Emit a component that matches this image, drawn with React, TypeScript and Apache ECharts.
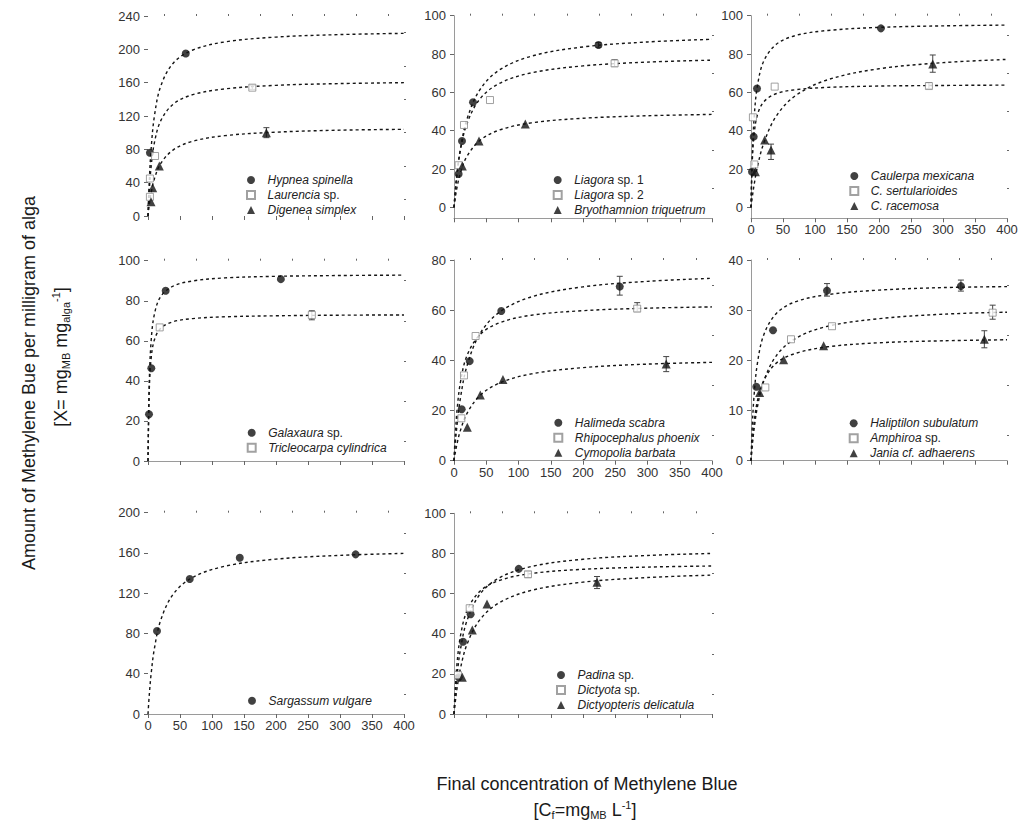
import React, { useEffect, useRef } from "react";
import * as echarts from "echarts";

// ---------- data ----------
const fitX = [0, 2, 5, 10, 20, 40, 70, 120, 200, 300, 400];

// Panel A
const hypneaPts = [[3, 76], [59, 195]];
const hypneaFit = [0, 41.9, 81.8, 119.8, 156.1, 184.0, 199.2, 208.9, 214.7, 217.7, 219.2];
const laurenciaPts = [[3, 23], [3, 45], [11, 72], [163, 154]];
const laurenciaFit = [0, 30.9, 60.2, 88.0, 114.4, 134.6, 145.6, 152.5, 156.8, 158.9, 160.0];
const digeneaPts = [[4.7, 17], [7.3, 34], [17.7, 60], [185, 100]];
const digeneaFit = [0, 13.4, 28.3, 44.8, 63.2, 79.7, 89.7, 96.4, 100.6, 103.0, 104.0];
const errA = [[163, 152, 157], [185, 94, 106]];

// Panel B
const liagora1Pts = [[7.2, 17.4], [12.4, 34.6], [29.5, 54.8], [224, 84.7]];
const liagora1Fit = [0, 8.3, 18.4, 30.6, 45.9, 61.3, 71.6, 78.9, 83.7, 86.3, 87.7];
const liagora2Pts = [[7.2, 22], [15.5, 43], [55.8, 56], [249, 75.1]];
const liagora2Fit = [0, 8.6, 18.5, 30.0, 43.6, 56.5, 64.6, 70.2, 73.8, 75.8, 76.8];
const bryoPts = [[12.9, 21.6], [38.8, 34.6], [110.6, 43.5]];
const bryoFit = [0, 5.1, 11.0, 18.1, 26.6, 34.9, 40.3, 44.1, 46.5, 47.8, 48.5];
const errB = [[249, 73.5, 77], [224, 83.5, 86]];

// Panel C
const caulerpaPts = [[1.6, 18.6], [4.2, 36.9], [9.4, 62], [203, 93.4]];
const caulerpaFit = [0, 26.7, 47.2, 63.3, 76.4, 85.2, 89.7, 92.3, 93.9, 94.7, 95.1];
const sertPts = [[3, 47], [5.2, 22.4], [37, 63], [278, 63.3]];
const sertFit = [0, 24.1, 38.5, 48.2, 55.1, 59.4, 61.4, 62.6, 63.3, 63.6, 63.8];
const racemosaPts = [[6.8, 18.6], [21.4, 35.1], [31.3, 29.9], [284, 74.8]];
const racemosaFit = [0, 5.3, 12.1, 21.1, 33.6, 47.9, 58.4, 66.6, 72.3, 75.5, 77.2];
const errC = [[278, 62, 65], [284, 70.5, 79.5], [31.3, 25, 33]];

// Panel D
const galaxauraPts = [[1.6, 23.3], [5.2, 46.3], [27.6, 85], [207.6, 90.8]];
const galaxauraFit = [0, 39.4, 60.4, 73.3, 82.2, 87.4, 89.9, 91.4, 92.2, 92.6, 92.8];
const tricleoPts = [[18.3, 66.7], [256, 72.9]];
const tricleoFit = [0, 35.6, 51.5, 60.5, 66.3, 69.6, 71.1, 72.0, 72.5, 72.8, 72.9];
const errD = [[256, 70.5, 75]];

// Panel E
const halimedaPts = [[11.9, 20.5], [24.3, 39.7], [73.3, 59.7], [257, 69.4]];
const halimedaFit = [0, 6.8, 15.0, 25.0, 37.7, 50.5, 59.1, 65.3, 69.3, 71.5, 72.7];
const rhipoPts = [[11.4, 16.9], [15.5, 34], [33.5, 49.7], [284, 60.6]];
const rhipoFit = [0, 10.4, 20.9, 31.3, 41.8, 50.2, 54.9, 58.0, 59.8, 60.8, 61.3];
const cymopoliaPts = [[20.6, 13.3], [40.8, 26.2], [75.9, 32.4], [329, 38.5]];
const cymopoliaFit = [0, 3.2, 7.1, 12.1, 18.8, 25.9, 30.9, 34.6, 37.1, 38.5, 39.2];
const errE = [[257, 66, 73.5], [284, 59.5, 63], [329, 35.5, 41.5]];

// Panel F
const haliptilonPts = [[8.3, 14.75], [34.4, 26], [118.75, 33.9], [328, 34.8]];
const haliptilonFit = [0, 6.9, 13.3, 19.4, 25.1, 29.4, 31.7, 33.1, 34.0, 34.5, 34.7];
const amphiroaPts = [[22.4, 14.6], [62.5, 24.2], [126.6, 26.8], [377.6, 29.5]];
const amphiroaFit = [0, 3.0, 6.5, 10.7, 15.9, 21.0, 24.4, 26.8, 28.3, 29.2, 29.6];
const janiaPts = [[13.5, 13.6], [51, 20.1], [113.5, 22.9], [364.6, 24.2]];
const janiaFit = [0, 3.8, 7.8, 11.9, 16.0, 19.5, 21.4, 22.7, 23.5, 23.9, 24.1];
const errF = [[118.75, 32.8, 35.3], [328, 33.8, 36], [377.6, 28.2, 31], [364.6, 22.5, 25.9]];

// Panel G
const sargassumPts = [[14.1, 82.5], [65.2, 134.1], [143.4, 155.3], [324.4, 158.6]];
const sargassumFit = [0, 19.0, 40.5, 65.1, 93.5, 119.6, 135.8, 146.8, 153.9, 157.6, 159.6];
const errG: number[][] = [];

// Panel H
const padinaPts = [[7.2, 18.3], [14, 36], [25.8, 49.7], [100.3, 72.3]];
const padinaFit = [0, 9.3, 20.0, 32.2, 46.4, 59.6, 67.8, 73.5, 77.1, 79.0, 80.0];
const dictyotaPts = [[6.2, 19.4], [24.3, 52.7], [114.7, 69.6]];
const dictyotaFit = [0, 13.2, 26.2, 38.9, 51.3, 61.1, 66.5, 70.0, 72.1, 73.2, 73.75];
const dictyopterisPts = [[12.9, 18.3], [28.4, 41.9], [51.2, 54.8], [221.7, 65.6]];
const dictyopterisFit = [0, 6.0, 13.4, 22.7, 34.6, 46.9, 55.4, 61.6, 65.7, 68.0, 69.2];
const errH = [[221.7, 62.5, 68.5], [114.7, 68, 71]];

// axis ticks
const xMajor = [0, 50, 100, 150, 200, 250, 300, 350, 400];
const xMinor = [25, 75, 125, 175, 225, 275, 325, 375];
const yTicks = [
  [0, 40, 80, 120, 160, 200, 240],
  [0, 20, 40, 60, 80, 100],
  [0, 20, 40, 60, 80, 100],
  [0, 20, 40, 60, 80, 100],
  [0, 20, 40, 60, 80],
  [0, 10, 20, 30, 40],
  [0, 40, 80, 120, 160, 200],
  [0, 20, 40, 60, 80, 100],
];
const yMinorTicks = [
  [20, 60, 100, 140, 180, 220],
  [10, 30, 50, 70, 90],
  [10, 30, 50, 70, 90],
  [10, 30, 50, 70, 90],
  [10, 30, 50, 70],
  [5, 15, 25, 35],
  [20, 60, 100, 140, 180],
  [10, 30, 50, 70, 90],
];
const yMin = [0, -5.7, -5.7, 0, 0, 0, 0, 0];
const yMax = [240, 100, 100, 100, 80, 40, 200, 100];

type Kind = "circle" | "square" | "triangle";
type Sp = { name: string; pts: number[][]; fit: number[]; kind: Kind };

const panelSpecies: Sp[][] = [
  [
    { name: "Hypnea spinella", pts: hypneaPts, fit: hypneaFit, kind: "circle" },
    { name: "Laurencia sp.", pts: laurenciaPts, fit: laurenciaFit, kind: "square" },
    { name: "Digenea simplex", pts: digeneaPts, fit: digeneaFit, kind: "triangle" },
  ],
  [
    { name: "Liagora sp. 1", pts: liagora1Pts, fit: liagora1Fit, kind: "circle" },
    { name: "Liagora sp. 2", pts: liagora2Pts, fit: liagora2Fit, kind: "square" },
    { name: "Bryothamnion triquetrum", pts: bryoPts, fit: bryoFit, kind: "triangle" },
  ],
  [
    { name: "Caulerpa mexicana", pts: caulerpaPts, fit: caulerpaFit, kind: "circle" },
    { name: "C. sertularioides", pts: sertPts, fit: sertFit, kind: "square" },
    { name: "C. racemosa", pts: racemosaPts, fit: racemosaFit, kind: "triangle" },
  ],
  [
    { name: "Galaxaura sp.", pts: galaxauraPts, fit: galaxauraFit, kind: "circle" },
    { name: "Tricleocarpa cylindrica", pts: tricleoPts, fit: tricleoFit, kind: "square" },
  ],
  [
    { name: "Halimeda scabra", pts: halimedaPts, fit: halimedaFit, kind: "circle" },
    { name: "Rhipocephalus phoenix", pts: rhipoPts, fit: rhipoFit, kind: "square" },
    { name: "Cymopolia barbata", pts: cymopoliaPts, fit: cymopoliaFit, kind: "triangle" },
  ],
  [
    { name: "Haliptilon subulatum", pts: haliptilonPts, fit: haliptilonFit, kind: "circle" },
    { name: "Amphiroa sp.", pts: amphiroaPts, fit: amphiroaFit, kind: "square" },
    { name: "Jania cf. adhaerens", pts: janiaPts, fit: janiaFit, kind: "triangle" },
  ],
  [{ name: "Sargassum vulgare", pts: sargassumPts, fit: sargassumFit, kind: "circle" }],
  [
    { name: "Padina sp.", pts: padinaPts, fit: padinaFit, kind: "circle" },
    { name: "Dictyota sp.", pts: dictyotaPts, fit: dictyotaFit, kind: "square" },
    { name: "Dictyopteris delicatula", pts: dictyopterisPts, fit: dictyopterisFit, kind: "triangle" },
  ],
];
const panelErr = [errA, errB, errC, errD, errE, errF, errG, errH];

// ---------- layout ----------
const FONT = '"Liberation Sans", Arial, Helvetica, sans-serif';
const GRIDS = [
  { left: 148, top: 16, width: 256, height: 200 },
  { left: 454, top: 15.7, width: 258, height: 202.6 },
  { left: 751, top: 15.7, width: 256, height: 202.6 },
  { left: 148, top: 260.7, width: 256, height: 200.3 },
  { left: 454, top: 260, width: 258, height: 200.7 },
  { left: 751, top: 260, width: 256, height: 200.7 },
  { left: 148, top: 512.7, width: 256, height: 201.3 },
  { left: 454, top: 513.3, width: 258, height: 200.7 },
];
const X_LABELS = [false, false, true, false, true, false, true, false];
const X_LINE = [false, true, true, true, true, true, true, true];
const Y_LINE = [false, true, true, false, true, true, false, true];
const LEGEND_POS = [
  [250, 180], [556.7, 180], [853.3, 176], [250.7, 432.7],
  [557.3, 422.7], [852.7, 423.3], [252, 700.7], [560, 675],
];

const AXIS_COLOR = "#9a9a9a";
const TICK_COLOR = "#666";
const LABEL_COLOR = "#333";
const LEG_ICON = 8;

function symbolFor(kind: Kind) {
  if (kind === "circle") return { symbol: "circle", symbolSize: 8, itemStyle: { color: "#111" } };
  if (kind === "triangle") return { symbol: "triangle", symbolSize: 9, itemStyle: { color: "#111" } };
  return {
    symbol: "rect",
    symbolSize: 7,
    itemStyle: { color: "#fff", borderColor: "#8a8a8a", borderWidth: 1 },
  };
}

function legendFormatter(name: string) {
  const idx = name.indexOf(" sp.");
  if (idx >= 0) return `{p|}{i|${name.slice(0, idx)}}{n| ${name.slice(idx + 1)}}`;
  return `{p|}{i|${name}}`;
}

function buildOption() {
  const xAxis: any[] = [];
  const yAxis: any[] = [];
  const grid: any[] = [];
  const series: any[] = [];
  const legend: any[] = [];

  GRIDS.forEach((g) => {
    grid.push({ ...g, containLabel: false, outerBoundsMode: "none" });
  });
  GRIDS.forEach((g, i) => {
    xAxis.push({
      gridIndex: i,
      type: "value",
      min: 0,
      max: 400,
      axisLine: { show: X_LINE[i], onZero: false, lineStyle: { color: AXIS_COLOR, width: 1 } },
      axisTick: { show: true, customValues: xMajor, length: 4, lineStyle: { color: TICK_COLOR } },
      axisLabel: {
        show: X_LABELS[i],
        customValues: xMajor,
        fontSize: 13,
        color: LABEL_COLOR,
        fontFamily: FONT,
        margin: 5,
      },
      splitLine: { show: false },
    });
    yAxis.push({
      gridIndex: i,
      type: "value",
      min: yMin[i],
      max: yMax[i],
      axisLine: { show: Y_LINE[i], onZero: false, lineStyle: { color: AXIS_COLOR, width: 1 } },
      axisTick: { show: true, customValues: yTicks[i], length: 4, lineStyle: { color: TICK_COLOR } },
      axisLabel: {
        show: true,
        customValues: yTicks[i],
        fontSize: 13,
        color: LABEL_COLOR,
        fontFamily: FONT,
        margin: 8,
      },
      splitLine: { show: false },
    });
  });
  GRIDS.forEach((g, i) => {
    xAxis.push({
      gridIndex: i,
      type: "value",
      min: 0,
      max: 400,
      axisLine: { show: false, onZero: false },
      axisTick: { show: true, customValues: xMinor, length: 2, lineStyle: { color: TICK_COLOR } },
      axisLabel: { show: false },
      splitLine: { show: false },
    });
    yAxis.push({
      gridIndex: i,
      type: "value",
      min: yMin[i],
      max: yMax[i],
      axisLine: { show: false, onZero: false },
      axisTick: { show: true, customValues: yMinorTicks[i], length: 2, lineStyle: { color: TICK_COLOR } },
      axisLabel: { show: false },
      splitLine: { show: false },
    });
  });

  panelSpecies.forEach((list, i) => {
    list.forEach((sp) => {
      series.push({
        type: "line",
        xAxisIndex: i,
        yAxisIndex: i,
        data: fitX.map((x, k) => [x, sp.fit[k]]),
        smooth: 0.35,
        showSymbol: false,
        symbol: "none",
        silent: true,
        z: 2,
        lineStyle: { color: "#151515", width: 1.4, type: [3, 3] },
      });
    });
    if (panelErr[i].length) {
      series.push({
        type: "custom",
        xAxisIndex: i,
        yAxisIndex: i,
        z: 3,
        silent: true,
        data: panelErr[i],
        renderItem: (params: any, api: any) => {
          const x = api.value(0);
          const p1 = api.coord([x, api.value(1)]);
          const p2 = api.coord([x, api.value(2)]);
          const w = 3;
          const st = { stroke: "#444", lineWidth: 1 };
          return {
            type: "group",
            children: [
              { type: "line", shape: { x1: p1[0], y1: p1[1], x2: p2[0], y2: p2[1] }, style: st },
              { type: "line", shape: { x1: p1[0] - w, y1: p1[1], x2: p1[0] + w, y2: p1[1] }, style: st },
              { type: "line", shape: { x1: p2[0] - w, y1: p2[1], x2: p2[0] + w, y2: p2[1] }, style: st },
            ],
          };
        },
      });
    }
    list.forEach((sp) => {
      series.push({
        type: "scatter",
        name: sp.name,
        xAxisIndex: i,
        yAxisIndex: i,
        data: sp.pts,
        z: 5,
        ...symbolFor(sp.kind),
      });
    });
    const [cx, cy] = LEGEND_POS[i];
    const baseRich = { fontSize: 12, color: "#222", fontFamily: FONT, lineHeight: 15 };
    legend.push({
      orient: "vertical",
      left: cx - LEG_ICON / 2,
      top: cy - 7.5,
      itemWidth: LEG_ICON,
      itemHeight: LEG_ICON,
      itemGap: 0,
      padding: 0,
      selectedMode: false,
      symbolKeepAspect: true,
      data: list.map((s) => s.name),
      formatter: legendFormatter,
      textStyle: {
        ...baseRich,
        rich: {
          p: { ...baseRich, width: 7.5 },
          i: { ...baseRich, fontStyle: "italic" },
          n: { ...baseRich, fontStyle: "normal" },
        },
      },
    });
  });

  const titleRich = {
    sub: { fontSize: 11, fontFamily: FONT, fill: "#1a1a1a", color: "#1a1a1a", padding: [10, 0, 0, 0] },
    sup: { fontSize: 11, fontFamily: FONT, fill: "#1a1a1a", color: "#1a1a1a", padding: [0, 0, 10, 0] },
  };
  const baseText = {
    fontSize: 18,
    fontFamily: FONT,
    fill: "#1a1a1a",
    align: "center",
    verticalAlign: "middle",
    textAlign: "center",
    textVerticalAlign: "middle",
  };

  const graphic = [
    {
      type: "text",
      x: 29,
      y: 383,
      rotation: Math.PI / 2,
      style: { ...baseText, text: "Amount of Methylene Bue per milligram of alga" },
    },
    {
      type: "text",
      x: 61,
      y: 357,
      rotation: Math.PI / 2,
      style: { ...baseText, text: "[X= mg{sub|MB} mg{sub|alga}{sup|-1}]", rich: titleRich },
    },
    {
      type: "text",
      x: 587,
      y: 784,
      style: { ...baseText, text: "Final concentration of Methylene Blue" },
    },
    {
      type: "text",
      x: 585,
      y: 810,
      style: { ...baseText, text: "[C{sub|f}=mg{sub|MB} L{sup|-1}]", rich: titleRich },
    },
  ];

  return {
    animation: false,
    backgroundColor: "#ffffff",
    grid,
    xAxis,
    yAxis,
    legend,
    series,
    graphic,
  };
}

export default function App() {
  const ref = useRef<HTMLDivElement>(null);
  useEffect(() => {
    if (!ref.current) return;
    const chart = echarts.init(ref.current, undefined, { renderer: "svg" });
    chart.setOption(buildOption() as any);
    return () => chart.dispose();
  }, []);
  return (
    <div
      ref={ref}
      style={{ position: "absolute", left: 0, top: 0, width: 1018, height: 823, background: "#fff" }}
    />
  );
}
